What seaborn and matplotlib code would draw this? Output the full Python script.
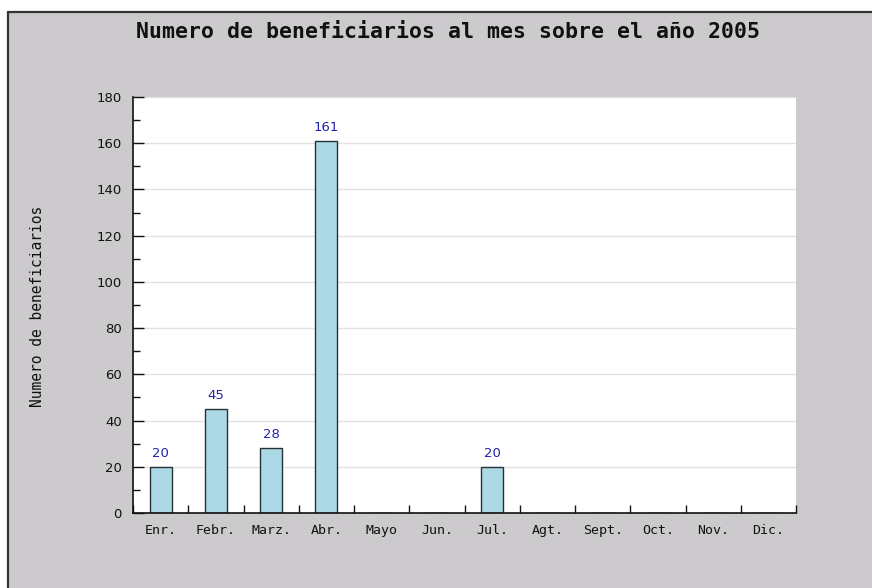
import matplotlib
matplotlib.use("Agg")
import matplotlib.pyplot as plt
import seaborn as sns
import pandas as pd
from matplotlib.patches import Rectangle
from matplotlib.lines import Line2D
from matplotlib.ticker import MultipleLocator, FixedLocator

months = ["Enr.", "Febr.", "Marz.", "Abr.", "Mayo", "Jun.", "Jul.", "Agt.", "Sept.", "Oct.", "Nov.", "Dic."]
values = [20, 45, 28, 161, 0, 0, 20, 0, 0, 0, 0, 0]
title = "Numero de beneficiarios al mes sobre el año 2005"
ylabel = "Numero de beneficiarios"

df = pd.DataFrame({"mes": months, "valor": values})

sns.set_theme(style="white")
plt.rcParams["font.family"] = ["DejaVu Sans"]

W, H = 872, 588
fig = plt.figure(figsize=(W / 100, H / 100), dpi=100)
fig.patch.set_facecolor("white")

bg = "#cccacd"
# gray panel with dark top/left border
fig.patches.append(Rectangle((8 / W, 0), 1, 1 - 13 / H, transform=fig.transFigure,
                             facecolor=bg, edgecolor="none", zorder=-5))
fig.lines.append(Line2D([8 / W, 8 / W], [0, 1 - 12 / H], transform=fig.transFigure,
                        color="#333333", lw=1.6, zorder=-4))
fig.lines.append(Line2D([8 / W, 1], [1 - 12 / H, 1 - 12 / H], transform=fig.transFigure,
                        color="#333333", lw=1.6, zorder=-4))

ax = fig.add_axes([133 / W, 1 - 513 / H, (796 - 133) / W, (513 - 97) / H])
ax.set_zorder(2)
ax.set_facecolor("white")

sns.barplot(data=df, x="mes", y="valor", ax=ax, color="#add8e6", width=0.4,
            edgecolor="#223333", linewidth=1.0, saturation=1, zorder=3)

ax.set_xlim(-0.5, len(months) - 0.5)
ax.set_ylim(0, 180)
ax.yaxis.set_major_locator(MultipleLocator(20))
ax.yaxis.set_minor_locator(MultipleLocator(10))
ax.xaxis.set_minor_locator(FixedLocator([i - 0.5 for i in range(len(months) + 1)]))

ax.grid(axis="y", which="major", color="#e2e2e2", lw=1, zorder=0)
ax.set_axisbelow(True)

for s in ["top", "right"]:
    ax.spines[s].set_visible(False)
for s in ["left", "bottom"]:
    ax.spines[s].set_color("#111111")
    ax.spines[s].set_linewidth(1.2)
    ax.spines[s].set_zorder(5)

ax.tick_params(axis="y", which="major", direction="in", length=8, width=1, color="#111111",
               labelsize=9.5, labelcolor="#111111", pad=8, left=True)
ax.tick_params(axis="y", which="minor", direction="in", length=5, width=1, color="#111111", left=True)
ax.tick_params(axis="x", which="major", length=0, pad=8)
ax.tick_params(axis="x", which="minor", direction="in", length=6, width=1, color="#111111", bottom=True)

ax.set_xticks(range(len(months)))
ax.set_xticklabels(months, family="DejaVu Sans Mono", fontsize=9.5, color="#111111")
ax.set_xlabel("")
ax.set_ylabel("")

labels = [str(v) if v else "" for v in values]
ax.bar_label(ax.containers[0], labels=labels, padding=5, color="#2222aa", fontsize=9.5)

fig.text(37 / W, 1 - 306 / H, ylabel, rotation=90, ha="center", va="center",
         family="DejaVu Sans Mono", fontsize=10.5, color="#111111")
fig.text(448 / W, 1 - 32 / H, title, ha="center", va="center",
         family="DejaVu Sans Mono", fontsize=15.5, fontweight="semibold", color="#111111")

fig.savefig("out.png", dpi=100)
